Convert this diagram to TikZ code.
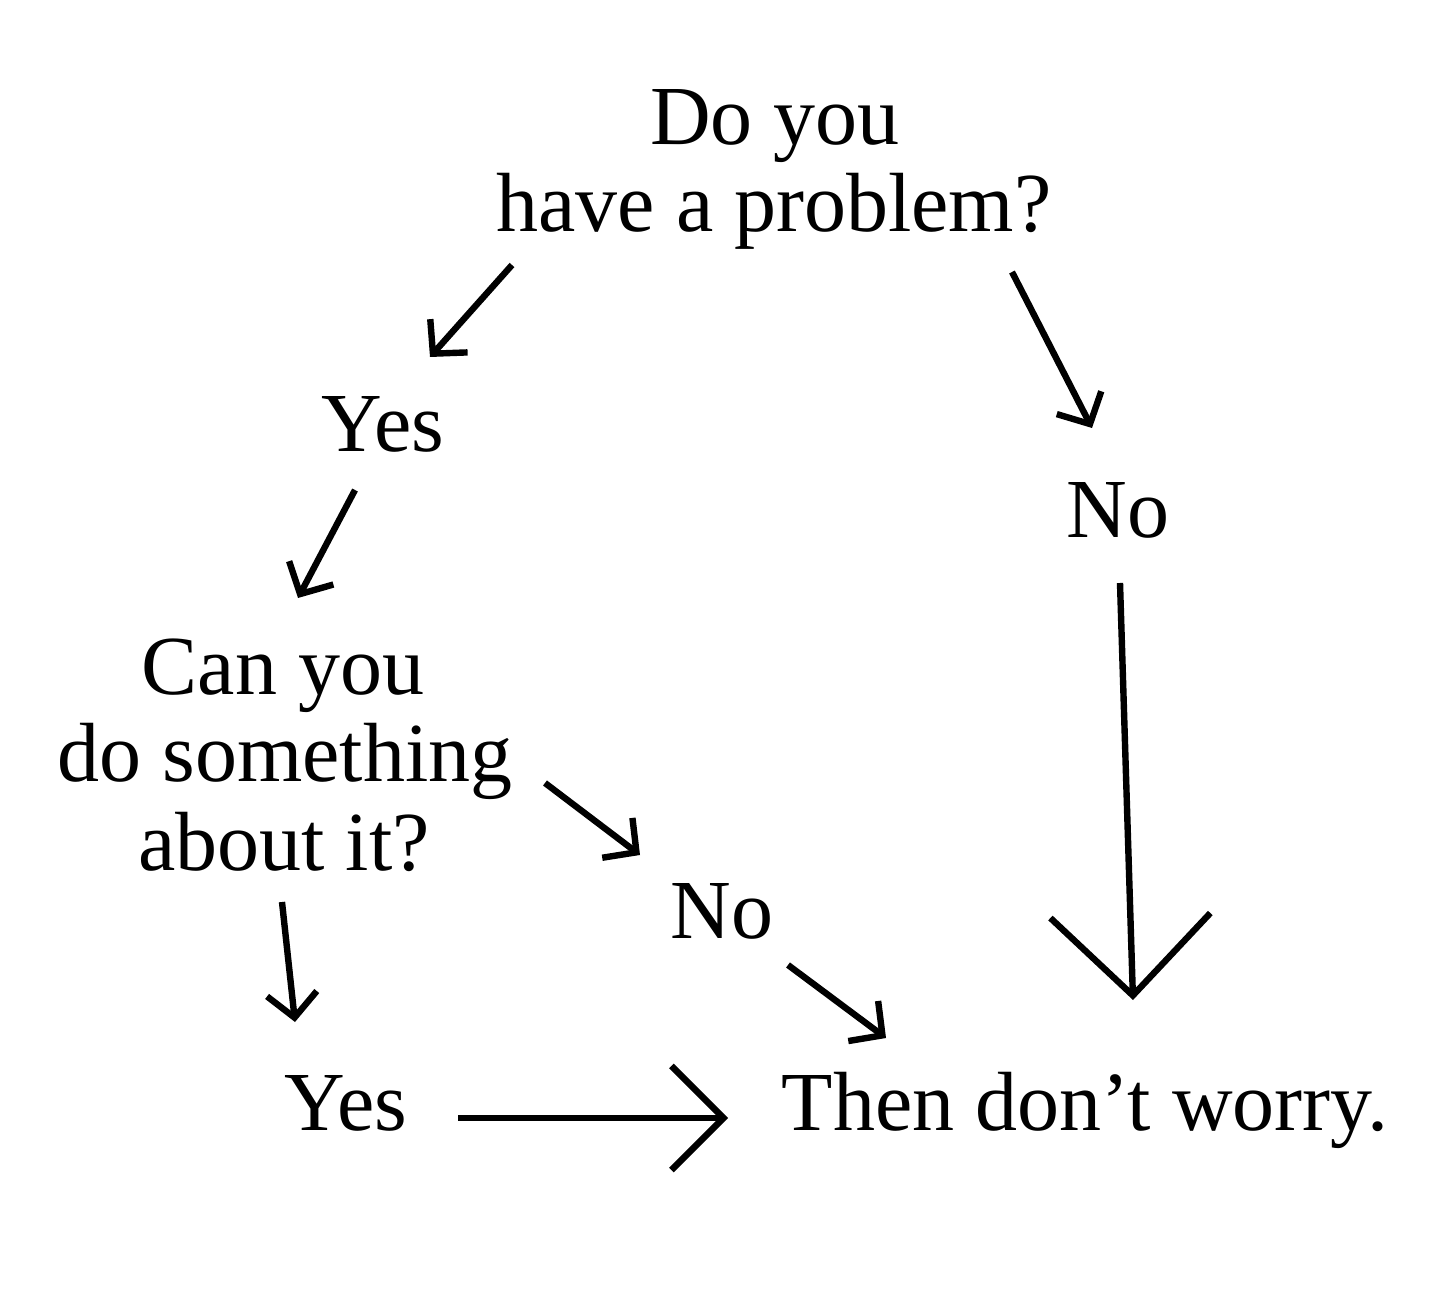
\documentclass[tikz,border=0pt]{standalone}
\usepackage{fontspec}
\setmainfont{Liberation Serif}
\usetikzlibrary{arrows.meta}
\tikzset{
  lbl/.style={font=\fontsize{42}{43.5}\selectfont, inner sep=0pt, anchor=base, align=center},
  arr/.style={line width=3.2pt, -{Straight Barb[length=12pt, width=25pt]}},
  arrmid/.style={line width=3.2pt, -{Straight Barb[length=26pt, width=52pt]}},
  arrbig/.style={line width=3.2pt, -{Straight Barb[length=40pt, width=80pt]}},
}
\begin{document}
\begin{tikzpicture}[x=0.5pt,y=-0.5pt]
\useasboundingbox[fill=white] (0,0) rectangle (1440,1309);
% texts
\node[lbl] (q1a) at (775,145) {Do you};
\node[lbl] (q1b) at (774,232) {have a problem?};
\node[lbl] (yes1) at (383,452) {Yes};
\node[lbl] (no1) at (1118,538) {No};
\node[lbl] (q2a) at (283,695) {Can you};
\node[lbl] (q2b) at (285,782) {do something};
\node[lbl] (q2c) at (284,870) {about it?};
\node[lbl] (no2) at (722,938) {No};
\node[lbl] (yes2) at (346,1130) {Yes};
\node[lbl] (end) at (1085,1130) {Then don’t worry.};
% connector end points
\coordinate (a1s) at (512,265); \coordinate (a1e) at (430,357);
\coordinate (a2s) at (1012,272); \coordinate (a2e) at (1092,428);
\coordinate (a3s) at (355,490); \coordinate (a3e) at (298,598);
\coordinate (a4s) at (1120,583); \coordinate (a4e) at (1133,1000);
\coordinate (a5s) at (545,783); \coordinate (a5e) at (640,855);
\coordinate (a6s) at (282,902); \coordinate (a6e) at (295,1022);
\coordinate (a7s) at (788,965); \coordinate (a7e) at (886,1038);
\coordinate (a8s) at (458,1118); \coordinate (a8e) at (728,1118);
\draw[arr] (a1s) -- (a1e);
\draw[arr] (a2s) -- (a2e);
\draw[arr] (a3s) -- (a3e);
\draw[arrbig] (a4s) -- (a4e);
\draw[arr] (a5s) -- (a5e);
\draw[arr] (a6s) -- (a6e);
\draw[arr] (a7s) -- (a7e);
\draw[arrmid] (a8s) -- (a8e);
\end{tikzpicture}
\end{document}
